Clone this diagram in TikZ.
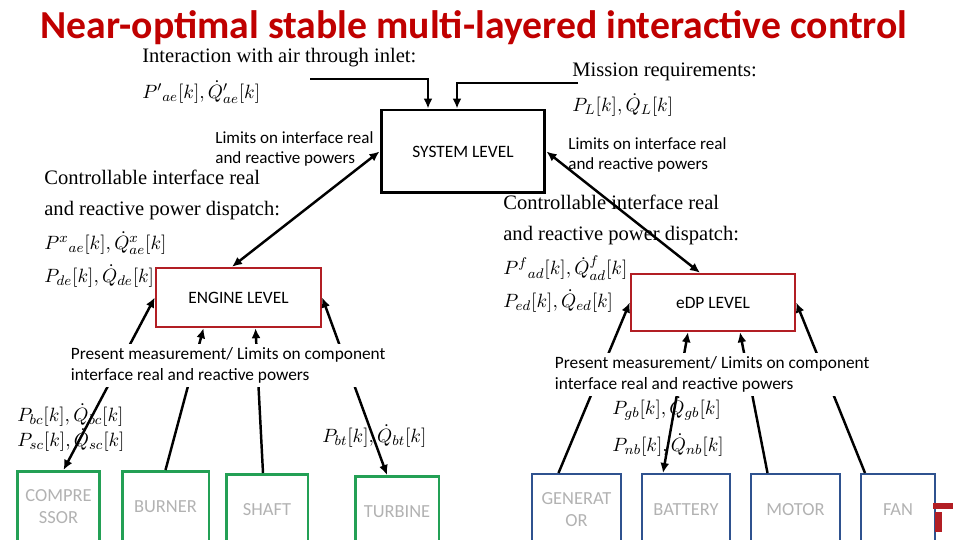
\documentclass[tikz,border=0pt]{standalone}
\usepackage{fontspec}
\setmainfont{Liberation Serif}
\newfontfamily\carlito{Carlito}
\usetikzlibrary{positioning,arrows.meta}
\definecolor{titlered}{RGB}{192,0,0}
\definecolor{levelred}{RGB}{178,30,36}
\definecolor{compgreen}{RGB}{35,160,85}
\definecolor{compblue}{RGB}{47,82,143}

\begin{document}
\begin{tikzpicture}[
  x=0.02cm, y=-0.02cm,
  syslvl/.style={draw, line width=1.7pt, font=\carlito\fontsize{9.9}{11}\selectfont},
  sublvl/.style={draw=levelred, line width=1.4pt, font=\carlito\fontsize{9.9}{11}\selectfont},
  comp/.style={draw=compgreen, line width=1.7pt, anchor=north, minimum height=1.5cm,
    align=center, text=black!30, text depth=0.1cm, font=\carlito\fontsize{10.5}{12.5}\selectfont},
  elec/.style={comp, draw=compblue, line width=1.4pt},
  note/.style={anchor=west, align=left, inner sep=0pt, font=\carlito\fontsize{9.7}{11.3}\selectfont},
  meas/.style={anchor=west, align=left, fill=white, inner sep=2pt,
    font=\carlito\fontsize{9.85}{11.8}\selectfont},
  txt/.style={anchor=west, align=left, inner sep=0pt, font=\fontsize{11.7}{17}\selectfont},
  val/.style={anchor=west, align=left, inner sep=0pt, font=\fontsize{11}{18.5}\selectfont},
  arr/.style={-{Latex[length=2mm,width=1.8mm]}, line width=1.4pt},
  biarr/.style={{Latex[length=2mm,width=1.8mm]}-{Latex[length=2mm,width=1.8mm]}, line width=1.4pt}
]
  \useasboundingbox (0,0) rectangle (960,540);
  \clip (0,0) rectangle (960,540);

  \node[font=\carlito\bfseries\fontsize{22.6}{26}\selectfont, text=titlered, inner sep=0pt] (title) at (474,28)
    {Near-optimal stable multi-layered interactive control};

  % levels
  \node[syslvl, minimum width=3.28cm, minimum height=1.66cm] (sys) at (463,151.5) {SYSTEM LEVEL};
  \node[sublvl, minimum width=3.3cm, minimum height=1.18cm] (engine) at (238.5,297.5) {ENGINE LEVEL};
  \node[sublvl, minimum width=3.28cm, minimum height=1.14cm] (edp) at (713,302.5) {eDP LEVEL};

  % components
  \node[comp, minimum width=1.66cm] (compr) at (58.5,470) {COMPRE\\SSOR};
  \node[comp, minimum width=1.74cm] (burner) at (165.5,470) {BURNER};
  \node[comp, minimum width=1.64cm] (shaft) at (267,473) {SHAFT};
  \node[comp, minimum width=1.68cm] (turbine) at (397,475) {TURBINE};
  \node[elec, minimum width=1.78cm] (gen) at (576.5,473) {GENERAT\\OR};
  \node[elec, minimum width=1.76cm] (batt) at (686,473) {BATTERY};
  \node[elec, minimum width=1.78cm] (motor) at (795.5,473) {MOTOR};
  \node[elec, minimum width=1.48cm] (fan) at (898,473) {FAN};

  % inputs and labels
  \node[txt] (airlbl) at (142,58) {Interaction with air through inlet:};
  \node[val] (airval) at (142,92) {$P'{}_{ae}[k],\dot{Q}'_{ae}[k]$};
  \node[txt] (misslbl) at (572,72) {Mission requirements:};
  \node[val] (missval) at (572,105) {$P_L[k],\dot{Q}_L[k]$};
  \node[note] (limleft) at (215,149) {Limits on interface real\\and reactive powers};
  \node[note] (limright) at (568,155) {Limits on interface real\\and reactive powers};
  \node[txt, font=\fontsize{11.7}{17.5}\selectfont] (displeft) at (44,195) {Controllable interface real\\and reactive power dispatch:};
  \node[val] (dispvalleft) at (44,259.5) {$P^{x}{}_{ae}[k],\dot{Q}^{x}_{ae}[k]$\\$P_{de}[k],\dot{Q}_{de}[k]$};
  \node[txt, font=\fontsize{11.7}{17.5}\selectfont] (dispright) at (503,220) {Controllable interface real\\and reactive power dispatch:};
  \node[val] (dispvalright) at (503,284) {$P^{f}{}_{ad}[k],\dot{Q}^{f}_{ad}[k]$\\$P_{ed}[k],\dot{Q}_{ed}[k]$};
  \node[val, font=\fontsize{11}{14}\selectfont] (cval) at (17,427.5) {$P_{bc}[k],\dot{Q}_{bc}[k]$\\$P_{sc}[k],\dot{Q}_{sc}[k]$};
  \node[val] (tval) at (322,436) {$P_{bt}[k],\dot{Q}_{bt}[k]$};
  \node[val, font=\fontsize{11}{21}\selectfont] (bval) at (612,426.5) {$P_{gb}[k],\dot{Q}_{gb}[k]$\\$P_{nb}[k],\dot{Q}_{nb}[k]$};

  \coordinate (airin) at (310,79);
  \coordinate (missin) at (578,83);

  % connectors
  \draw[arr] (airin) -| ([xshift=-0.7cm]sys.north);
  \draw[arr] (missin) -| ([xshift=-0.12cm]sys.north);
  \draw[biarr] ([xshift=-0.13cm]engine.north) -- (sys.west);
  \draw[biarr] ([xshift=-0.26cm]edp.north) -- (sys.east);

  \draw[biarr] ([xshift=0.1cm]compr.north) -- (engine.west);
  \draw[arr] (burner.north) -- ([xshift=-0.7cm]engine.south);
  \draw[arr] ([xshift=-0.08cm]shaft.north) -- ([xshift=0.34cm]engine.south);
  \draw[biarr] ([xshift=-0.2cm]turbine.north) -- (engine.east);

  \draw[arr] ([xshift=-0.36cm]gen.north) -- (edp.west);
  \draw[biarr] ([xshift=-0.46cm]batt.north) -- ([xshift=-0.5cm]edp.south);
  \draw[arr] ([xshift=-0.56cm]motor.north) -- ([xshift=0.54cm]edp.south);
  \draw[arr] ([xshift=-0.66cm]fan.north) -- (edp.east);

  \node[meas] (measleft) at (67,365.5) {Present measurement/ Limits on component\\interface real and reactive powers};
  \node[meas] (measright) at (551,374.5) {Present measurement/ Limits on component\\interface real and reactive powers};

  % logo corner
  \fill[levelred] (933,503) rectangle (953,509);
  \fill[levelred] (935,512) rectangle (942,532);
\end{tikzpicture}
\end{document}
